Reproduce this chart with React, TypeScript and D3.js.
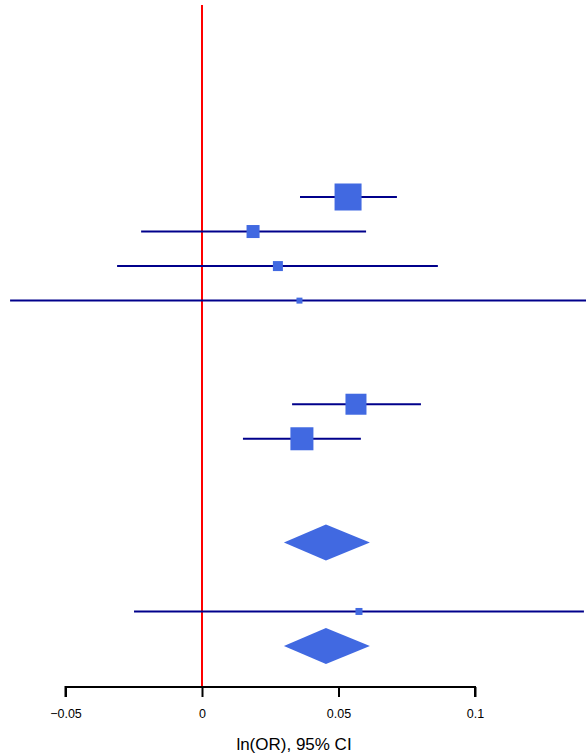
import React, { useEffect, useRef } from 'react'
import * as d3 from 'd3'

// study rows (row index from top), estimates and CIs on ln(OR) scale
const studyRows = [0, 1, 2, 3, 6, 7, 12]
const estimates = [0.0535, 0.0187, 0.0278, 0.0357, 0.0564, 0.0366, 0.0575]
const lower = [0.0359, -0.0223, -0.0311, -0.0703, 0.033, 0.015, -0.0249]
const upper = [0.0714, 0.0601, 0.0864, 0.1417, 0.0802, 0.0582, 0.1399]
const weights = [100, 23.2, 13.7, 4.9, 60.5, 72.6, 6.7]

// pooled estimates (diamonds)
const pooledRows = [10, 13]
const pooledEst = [0.0454, 0.0454]
const pooledLower = [0.0300, 0.0300]
const pooledUpper = [0.0615, 0.0615]

const tickValues = [-0.05, 0, 0.05, 0.1]
const tickLabels = ['\u22120.05', '0', '0.05', '0.1']

function App() {
  const ref = useRef<SVGSVGElement>(null)

  useEffect(() => {
    const svg = d3.select(ref.current)
    svg.selectAll('*').remove()

    const width = 586
    const height = 756

    const x = d3.scaleLinear().domain([0, 0.05]).range([202, 338.5])
    const y = d3.scaleLinear().domain([0, 13]).range([197, 646])
    const box = d3.scaleSqrt().domain([0, 100]).range([0, 27])

    svg.append('defs').append('clipPath').attr('id', 'plotclip')
      .append('rect').attr('x', 0).attr('y', 0).attr('width', width).attr('height', height)

    const g = svg.append('g').attr('clip-path', 'url(#plotclip)')

    // null line
    g.append('line')
      .attr('x1', x(0)).attr('x2', x(0))
      .attr('y1', 5).attr('y2', 687)
      .attr('stroke', '#ff0000')
      .attr('stroke-width', 2)

    const data = studyRows.map((r, i) => ({
      row: r, est: estimates[i], lo: lower[i], hi: upper[i], w: weights[i]
    }))

    g.selectAll('line.ci')
      .data(data)
      .enter()
      .append('line')
      .attr('class', 'ci')
      .attr('x1', d => x(d.lo))
      .attr('x2', d => x(d.hi))
      .attr('y1', d => y(d.row))
      .attr('y2', d => y(d.row))
      .attr('stroke', '#00008b')
      .attr('stroke-width', 2)

    g.selectAll('rect.box')
      .data(data)
      .enter()
      .append('rect')
      .attr('class', 'box')
      .attr('x', d => x(d.est) - box(d.w) / 2)
      .attr('y', d => y(d.row) - box(d.w) / 2)
      .attr('width', d => box(d.w))
      .attr('height', d => box(d.w))
      .attr('fill', '#4169e1')

    const pooled = pooledRows.map((r, i) => ({
      row: r, est: pooledEst[i], lo: pooledLower[i], hi: pooledUpper[i]
    }))

    g.selectAll('path.diamond')
      .data(pooled)
      .enter()
      .append('path')
      .attr('class', 'diamond')
      .attr('d', d => {
        const cy = y(d.row)
        return `M${x(d.lo)},${cy}L${x(d.est)},${cy - 18}L${x(d.hi)},${cy}L${x(d.est)},${cy + 18}Z`
      })
      .attr('fill', '#4169e1')

    // x axis
    const axis = d3.axisBottom(x)
      .tickValues(tickValues)
      .tickSize(10)
      .tickPadding(10)
      .tickFormat((_, i) => tickLabels[i])

    const ax = svg.append('g')
      .attr('transform', 'translate(0,687)')
      .call(axis)
    ax.select('.domain')
      .attr('d', `M${x(-0.05)},10V0H${x(0.1)}V10`)
      .attr('stroke', '#000')
      .attr('stroke-width', 2)
    ax.selectAll('.tick line').attr('stroke', '#000').attr('stroke-width', 2)
    ax.selectAll('.tick text')
      .attr('y', 30.5)
      .attr('dy', null)
      .attr('font-family', 'Liberation Sans, Arial, sans-serif')
      .attr('font-size', 12.5)
      .attr('fill', '#000')

    svg.append('text')
      .attr('x', 294)
      .attr('y', 750)
      .attr('text-anchor', 'middle')
      .attr('font-family', 'Liberation Sans, Arial, sans-serif')
      .attr('font-size', 17)
      .attr('fill', '#000')
      .text('ln(OR), 95% CI')
  }, [])

  return (
    <svg ref={ref} width={586} height={756}
      style={{ position: 'absolute', left: 0, top: 0, background: '#fff' }}></svg>
  )
}

export default App
